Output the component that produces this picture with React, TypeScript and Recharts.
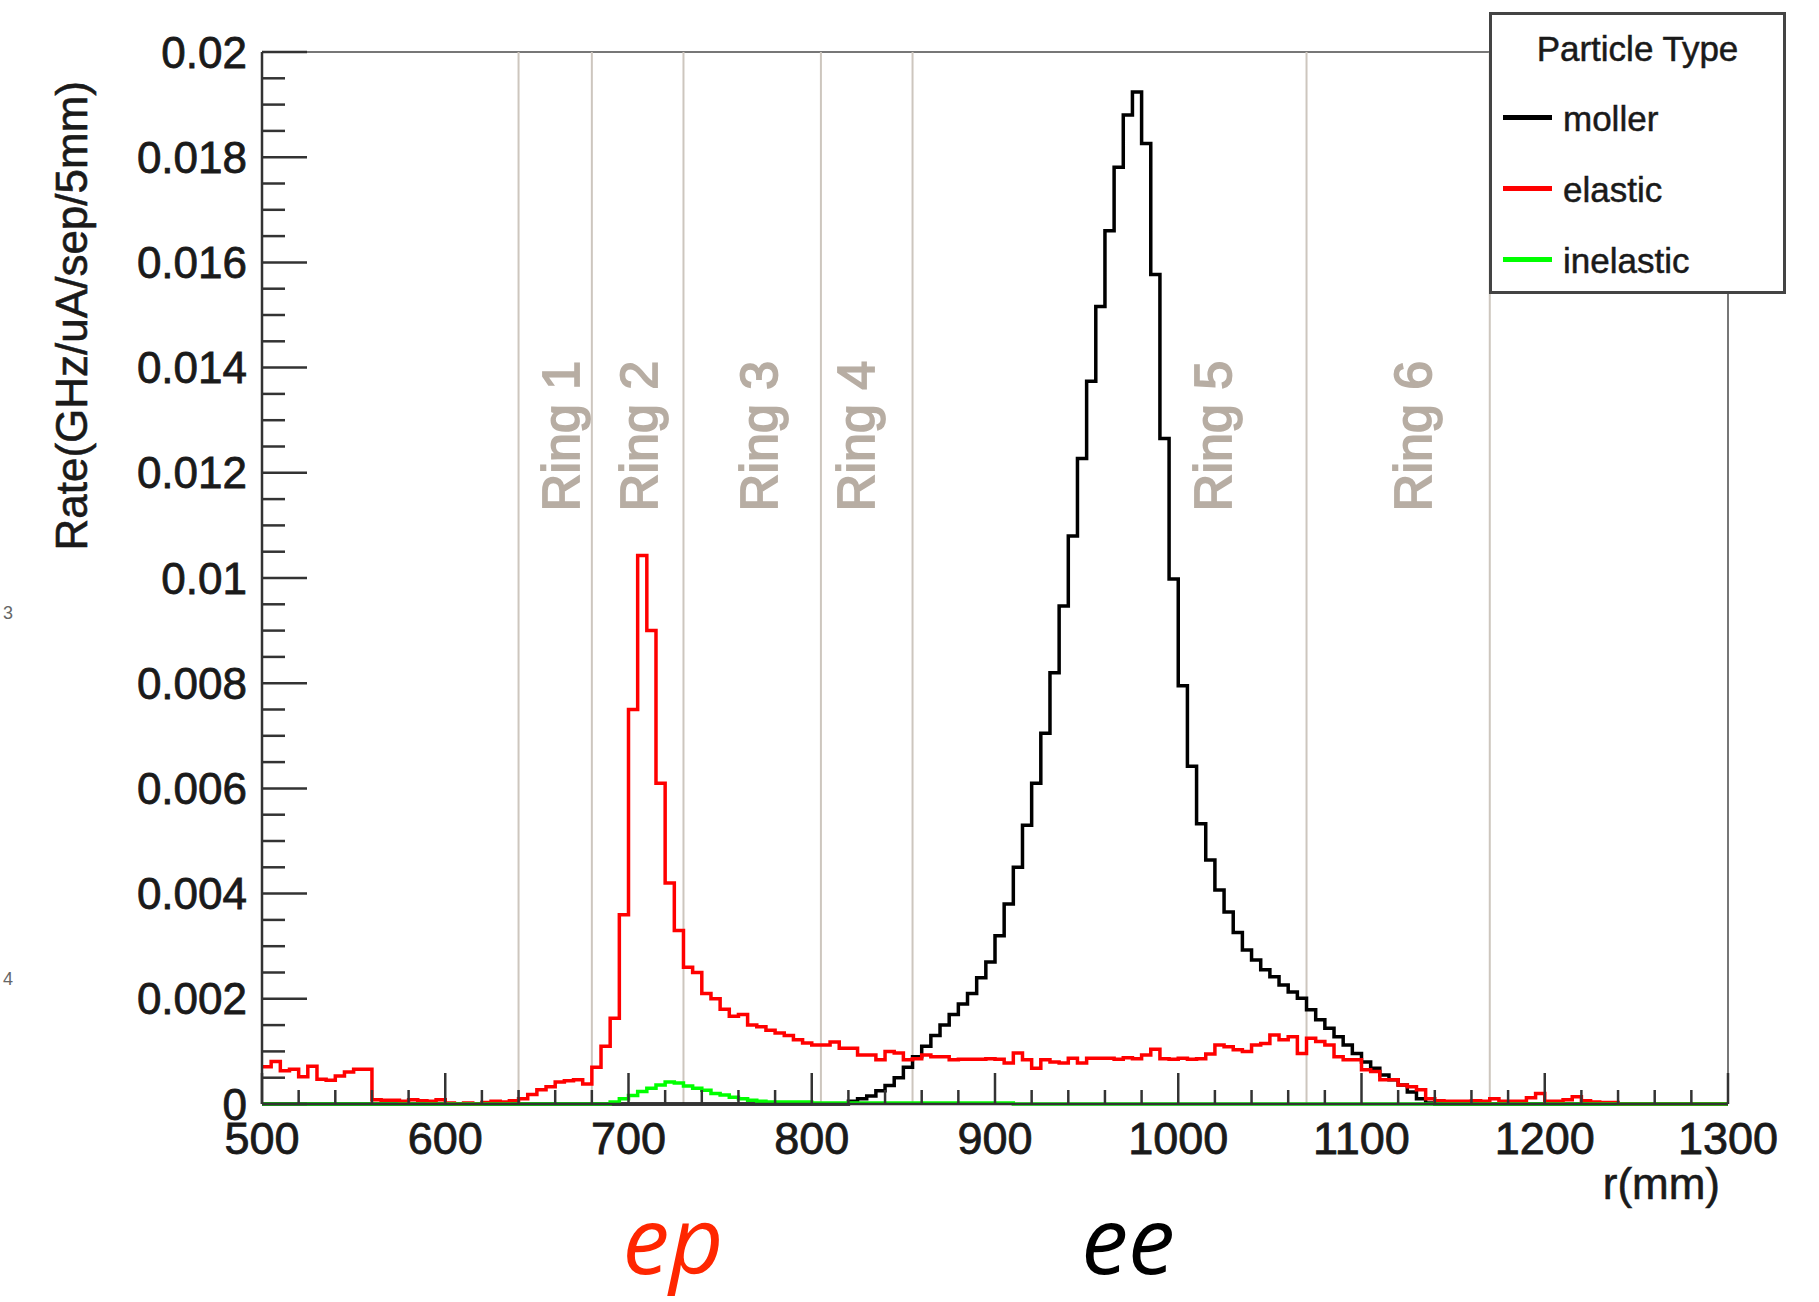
import React from 'react';
import { LineChart, Line, XAxis, YAxis, ReferenceLine, ReferenceDot, Legend } from 'recharts';

const FONT = '"Liberation Sans", Arial, Helvetica, sans-serif';

// 5 mm bins from 500 to 1300 mm, values read bin by bin (GHz/uA/sep/5mm)
const R_MIN = 500;
const R_MAX = 1300;
const BIN_WIDTH = 5;

const mollerRate = [
  /* 500 */ 0, 0, 0, 0, 0, 0, 0, 0, 0, 0,
  /* 550 */ 0, 0, 0, 0, 0, 0, 0, 0, 0, 0,
  /* 600 */ 0, 0, 0, 0, 0, 0, 0, 0, 0, 0,
  /* 650 */ 0, 0, 0, 0, 0, 0, 0, 0, 0, 0,
  /* 700 */ 0, 0, 0, 0, 0, 0, 0, 0, 0, 0,
  /* 750 */ 0, 0, 0, 0, 0, 0, 0, 0, 0, 0,
  /* 800 */ 0, 0, 0, 0, 0.00005, 0.0001, 0.00015, 0.00025, 0.00035, 0.0005,
  /* 850 */ 0.0007, 0.0009, 0.0011, 0.0013, 0.0015, 0.0017, 0.0019, 0.0021, 0.0024, 0.0027,
  /* 900 */ 0.0032, 0.0038, 0.0045, 0.0053, 0.0061, 0.00705, 0.0082, 0.00947, 0.0108, 0.01227,
  /* 950 */ 0.01374, 0.01516, 0.0166, 0.01781, 0.0188, 0.01924, 0.01826, 0.01577, 0.01265, 0.00998,
  /* 1000 */ 0.00795, 0.00642, 0.00533, 0.00464, 0.00407, 0.00365, 0.00326, 0.00293, 0.00274, 0.00255,
  /* 1050 */ 0.00242, 0.00226, 0.00213, 0.00201, 0.00179, 0.0016, 0.00144, 0.00128, 0.00112, 0.00096,
  /* 1100 */ 0.0008, 0.00068, 0.00055, 0.00046, 0.00036, 0.00023, 0.0001, 0.00002, 0, 0,
  /* 1150 */ 0, 0, 0, 0, 0, 0, 0, 0, 0, 0,
  /* 1200 */ 0, 0, 0, 0, 0, 0, 0, 0, 0, 0,
  /* 1250 */ 0, 0, 0, 0, 0, 0, 0, 0, 0, 0,
];

const elasticRate = [
  /* 500 */ 0.00071, 0.00081, 0.00063, 0.00066, 0.00052, 0.00072, 0.00047, 0.00045, 0.00053, 0.00061,
  /* 550 */ 0.00066, 0.00066, 0.00008, 0.00007, 0.00007, 0.00005, 0.00008, 0.00006, 0.00005, 0.00008,
  /* 600 */ 0.00002, 0, 0.00002, 0, 0.00003, 0.00005, 0.00004, 0.00006, 0.0001, 0.00018,
  /* 650 */ 0.00027, 0.00033, 0.00042, 0.00044, 0.00046, 0.00038, 0.0007, 0.0011, 0.00163, 0.0036,
  /* 700 */ 0.0075, 0.01043, 0.009, 0.0061, 0.0042, 0.0033, 0.0026, 0.0025, 0.0021, 0.002,
  /* 750 */ 0.0018, 0.00167, 0.0017, 0.0015, 0.00147, 0.0014, 0.00135, 0.0013, 0.00122, 0.00116,
  /* 800 */ 0.00112, 0.00112, 0.00118, 0.00106, 0.00106, 0.00093, 0.00093, 0.00084, 0.001, 0.00097,
  /* 850 */ 0.00084, 0.00086, 0.00093, 0.0009, 0.0009, 0.00084, 0.00085, 0.00085, 0.00085, 0.00086,
  /* 900 */ 0.00085, 0.00078, 0.00097, 0.00084, 0.00068, 0.00084, 0.0008, 0.00078, 0.00087, 0.00078,
  /* 950 */ 0.00087, 0.00087, 0.00087, 0.00085, 0.00088, 0.00086, 0.00093, 0.00104, 0.00086, 0.00085,
  /* 1000 */ 0.00087, 0.00085, 0.00086, 0.00095, 0.00112, 0.00109, 0.00103, 0.001, 0.00112, 0.00115,
  /* 1050 */ 0.00131, 0.00122, 0.00128, 0.00096, 0.00125, 0.00119, 0.00112, 0.0009, 0.00084, 0.00084,
  /* 1100 */ 0.00065, 0.00062, 0.00046, 0.00046, 0.00036, 0.00033, 0.00027, 0.0001, 0.00006, 0.00005,
  /* 1150 */ 0.00005, 0.00005, 0.00006, 0.00005, 0.0001, 0.00005, 0.00005, 0.00005, 0.00012, 0.0002,
  /* 1200 */ 0.00005, 0.00005, 0.00008, 0.00014, 0.00006, 0.00004, 0.00003, 0.00003, 0, 0,
  /* 1250 */ 0, 0, 0, 0, 0, 0, 0, 0, 0, 0,
];

const inelasticRate = [
  /* 500 */ 0, 0, 0, 0, 0, 0, 0, 0, 0, 0,
  /* 550 */ 0, 0, 0, 0, 0, 0, 0, 0, 0, 0,
  /* 600 */ 0, 0, 0, 0, 0, 0, 0, 0, 0, 0,
  /* 650 */ 0, 0, 0, 0, 0, 0, 0, 0, 0.00004, 0.0001,
  /* 700 */ 0.00016, 0.00024, 0.0003, 0.00036, 0.00042, 0.0004, 0.00034, 0.0003, 0.00026, 0.0002,
  /* 750 */ 0.00017, 0.00013, 0.0001, 0.00007, 0.00005, 0.00004, 0.00004, 0.00004, 0.00004, 0.00004,
  /* 800 */ 0.00002, 0.00002, 0.00002, 0.00002, 0.00002, 0.00002, 0.00002, 0.00002, 0.00002, 0.00002,
  /* 850 */ 0.00002, 0.00002, 0.00002, 0.00002, 0.00002, 0.00002, 0.00002, 0.00002, 0.00002, 0.00002,
  /* 900 */ 0.00002, 0.00002, 0, 0, 0, 0, 0, 0, 0, 0,
  /* 950 */ 0, 0, 0, 0, 0, 0, 0, 0, 0, 0,
  /* 1000 */ 0, 0, 0, 0, 0, 0, 0, 0, 0, 0,
  /* 1050 */ 0, 0, 0, 0, 0, 0, 0, 0, 0, 0,
  /* 1100 */ 0, 0, 0, 0, 0, 0, 0, 0, 0, 0,
  /* 1150 */ 0, 0, 0, 0, 0, 0, 0, 0, 0, 0,
  /* 1200 */ 0, 0, 0, 0, 0, 0, 0, 0, 0, 0,
  /* 1250 */ 0, 0, 0, 0, 0, 0, 0, 0, 0, 0,
];

// detector ring boundaries and where the ring names sit (mm)
const ringEdges = [640, 680, 730, 805, 855, 1070, 1170];
const ringNames = ['Ring 1', 'Ring 2', 'Ring 3', 'Ring 4', 'Ring 5', 'Ring 6'];
const ringLabelR = [663, 706, 771, 824, 1019, 1128];
const RING_LABEL_RATE = 0.0127;

const legendOrder = ['moller', 'elastic', 'inelastic'];

const xTicks: number[] = [];
for (let r = R_MIN; r <= R_MAX; r += 20) xTicks.push(r);
const yTicks: number[] = [];
for (let i = 0; i <= 40; i++) yTicks.push(+(i * 0.0005).toFixed(4));

const chartData = mollerRate.map((_, i) => ({
  r: R_MIN + i * BIN_WIDTH,
  moller: mollerRate[i],
  elastic: elasticRate[i],
  inelastic: inelasticRate[i],
}));
// closing edge so the last bin gets its horizontal step
chartData.push({
  r: R_MAX,
  moller: mollerRate[mollerRate.length - 1],
  elastic: elasticRate[elasticRate.length - 1],
  inelastic: inelasticRate[inelasticRate.length - 1],
});

const AXIS_COLOR = '#333';
const TEXT_COLOR = '#1a1a1a';
const RING_LINE = '#cdc6be';
const RING_TEXT = '#b7ada3';

function YTick(props: any) {
  const { x, y, payload } = props;
  const v = payload.value as number;
  const major = Math.round(v * 10000) % 20 === 0;
  return (
    <g>
      <line x1={x} x2={x + (major ? 45 : 23)} y1={y} y2={y} stroke={AXIS_COLOR} strokeWidth={2.5} />
      {major && (
        <text
          x={x - 15}
          y={y}
          textAnchor="end"
          dominantBaseline="central"
          fontSize={44}
          fontFamily={FONT}
          fill={TEXT_COLOR}
          stroke={TEXT_COLOR}
          strokeWidth={0.8}
        >
          {v === 0 ? '0' : String(v)}
        </text>
      )}
    </g>
  );
}

function XTick(props: any) {
  const { x, y, payload } = props;
  const v = payload.value as number;
  const major = v % 100 === 0;
  return (
    <g>
      <line x1={x} x2={x} y1={y} y2={y - (major ? 31 : 14)} stroke={AXIS_COLOR} strokeWidth={2.5} />
      {major && (
        <text x={x} y={y + 50} textAnchor="middle" fontSize={45} fontFamily={FONT} fill={TEXT_COLOR} stroke={TEXT_COLOR} strokeWidth={0.8}>
          {v}
        </text>
      )}
    </g>
  );
}

const yTitle = (props: any) => {
  const vb = props.viewBox;
  const tx = vb.x + 87;
  const ty = vb.y + 29;
  return (
    <text
      x={tx}
      y={ty}
      transform={`rotate(-90 ${tx} ${ty})`}
      textAnchor="end"
      fontSize={44}
      fontFamily={FONT}
      fill={TEXT_COLOR}
      stroke={TEXT_COLOR}
      strokeWidth={0.6}
    >
      Rate(GHz/uA/sep/5mm)
    </text>
  );
};

const xTitle = (props: any) => {
  const vb = props.viewBox;
  return (
    <text x={vb.x + vb.width - 8} y={vb.y + 95} textAnchor="end" fontSize={44} fontFamily={FONT} fill={TEXT_COLOR} stroke={TEXT_COLOR} strokeWidth={0.6}>
      r(mm)
    </text>
  );
};

const ringLabel = (name: string) => (props: any) => {
  const vb = props.viewBox;
  const cx = vb.x + (vb.width || 0) / 2;
  const cy = vb.y + (vb.height || 0) / 2;
  return (
    <text
      x={cx}
      y={cy}
      transform={`rotate(-90 ${cx} ${cy})`}
      textAnchor="middle"
      dominantBaseline="central"
      fontSize={52}
      fontFamily={FONT}
      fill={RING_TEXT}
      stroke={RING_TEXT}
      strokeWidth={1.8}
    >
      {name}
    </text>
  );
};

const rowCenters = [104, 175, 246];

function ParticleLegend(props: any) {
  const payload = [...(props.payload || [])].sort(
    (a: any, b: any) => legendOrder.indexOf(a.value) - legendOrder.indexOf(b.value),
  );
  return (
    <div
      style={{
        width: 297,
        height: 282,
        boxSizing: 'border-box',
        border: '3px solid #444',
        background: '#fff',
        position: 'relative',
        fontFamily: FONT,
        color: TEXT_COLOR,
        WebkitTextStroke: '0.5px #1a1a1a',
      }}
    >
      <div style={{ position: 'absolute', left: 0, right: 0, top: 14, height: 40, lineHeight: '40px', textAlign: 'center', fontSize: 35 }}>
        Particle Type
      </div>
      {payload.map((entry: any, i: number) => (
        <div
          key={entry.value}
          style={{ position: 'absolute', left: 11, top: rowCenters[i] - 20, height: 40, display: 'flex', alignItems: 'center' }}
        >
          <div style={{ width: 49, height: 5, background: entry.color, marginTop: -4 }} />
          <span style={{ marginLeft: 11, fontSize: 35, lineHeight: '40px' }}>{entry.value}</span>
        </div>
      ))}
    </div>
  );
}

export default function App() {
  return (
    <div style={{ position: 'absolute', left: 0, top: 0, width: 1819, height: 1302, background: '#fff' }}>
      <LineChart width={1819} height={1302} data={chartData} margin={{ top: 52, right: 91, bottom: 0, left: 0 }}>
        <XAxis
          dataKey="r"
          type="number"
          domain={[R_MIN, R_MAX]}
          ticks={xTicks}
          interval={0}
          tickSize={0}
          tickMargin={0}
          tickLine={false}
          axisLine={{ stroke: AXIS_COLOR, strokeWidth: 2.5 }}
          height={198}
          tick={<XTick />}
          label={xTitle}
        />
        <YAxis
          type="number"
          domain={[0, 0.02]}
          ticks={yTicks}
          interval={0}
          tickSize={0}
          tickMargin={0}
          tickLine={false}
          axisLine={{ stroke: AXIS_COLOR, strokeWidth: 2.5 }}
          width={262}
          tick={<YTick />}
          label={yTitle}
        />
        {/* frame top and right */}
        <ReferenceLine y={0.02} stroke="#777" strokeWidth={2} />
        <ReferenceLine x={R_MAX} stroke="#777" strokeWidth={2} />
        {ringEdges.map((r) => (
          <ReferenceLine key={r} x={r} stroke={RING_LINE} strokeWidth={2} />
        ))}
        {ringNames.map((name, i) => (
          <ReferenceDot
            key={name}
            x={ringLabelR[i]}
            y={RING_LABEL_RATE}
            r={0}
            fill="none"
            stroke="none"
            label={ringLabel(name)}
          />
        ))}
        <Line type="stepAfter" dataKey="moller" name="moller" stroke="#000000" strokeWidth={3.5} dot={false} isAnimationActive={false} />
        <Line type="stepAfter" dataKey="elastic" name="elastic" stroke="#ff0000" strokeWidth={3.5} dot={false} isAnimationActive={false} />
        <Line type="stepAfter" dataKey="inelastic" name="inelastic" stroke="#00ff00" strokeWidth={3.5} dot={false} isAnimationActive={false} />
        <Legend
          layout="vertical"
          align="center"
          verticalAlign="middle"
          wrapperStyle={{ left: 1489, top: 12, width: 297, height: 282 }}
          content={<ParticleLegend />}
        />
      </LineChart>
      <svg width={1819} height={1302} style={{ position: 'absolute', left: 0, top: 0, pointerEvents: 'none' }}>
        <text x={3} y={619} fontSize={18} fontFamily={FONT} fill="#666">3</text>
        <text x={3} y={985} fontSize={18} fontFamily={FONT} fill="#666">4</text>
        <text x={673} y={1274} textAnchor="middle" fontSize={94} fontStyle="italic" fontFamily='"Open Sans", "Noto Sans", sans-serif' fill="#ff2600">
          ep
        </text>
        <text x={1128} y={1274} textAnchor="middle" fontSize={94} fontStyle="italic" fontFamily='"Open Sans", "Noto Sans", sans-serif' fill="#000">
          ee
        </text>
      </svg>
    </div>
  );
}
